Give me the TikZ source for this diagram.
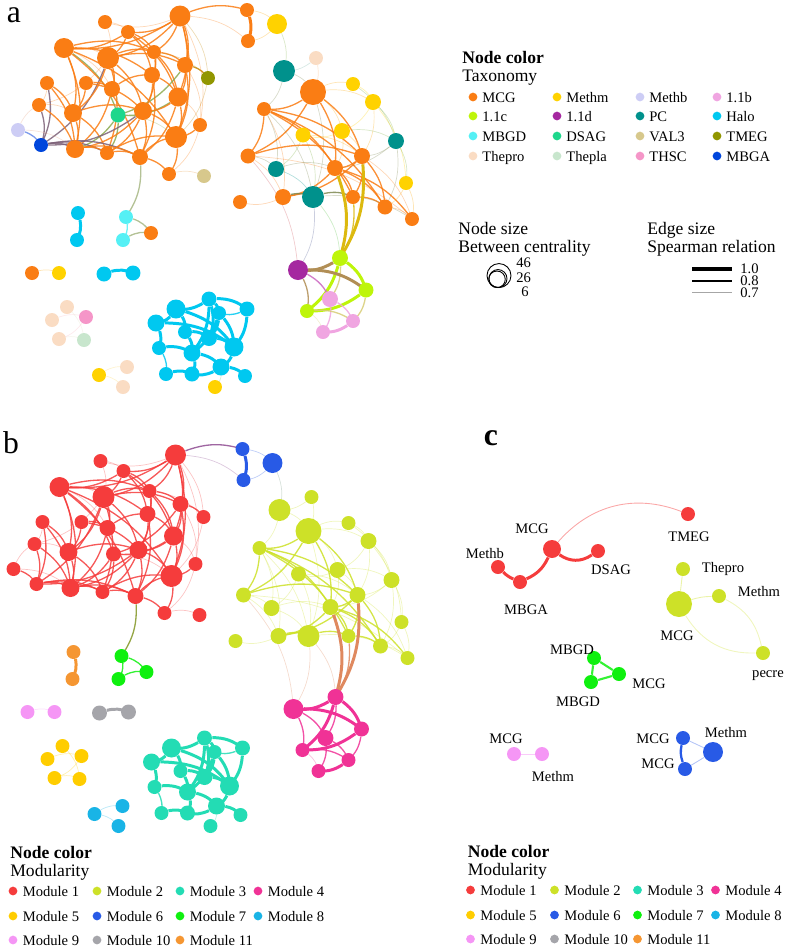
\documentclass[tikz,border=0pt]{standalone}
\usepackage{fontspec}
\setmainfont{Liberation Serif}
\usetikzlibrary{positioning}
\usetikzlibrary{backgrounds}

% taxonomy colours
\definecolor{tMCG}{RGB}{250,125,20}
\definecolor{tMethm}{RGB}{255,210,0}
\definecolor{tMethb}{RGB}{205,205,245}
\definecolor{tOneb}{RGB}{240,165,225}
\definecolor{tOnec}{RGB}{190,245,10}
\definecolor{tOned}{RGB}{165,40,160}
\definecolor{tPC}{RGB}{0,145,140}
\definecolor{tHalo}{RGB}{0,200,240}
\definecolor{tMBGD}{RGB}{85,240,245}
\definecolor{tDSAG}{RGB}{30,215,140}
\definecolor{tVAL}{RGB}{215,200,140}
\definecolor{tTMEG}{RGB}{145,150,0}
\definecolor{tThepro}{RGB}{250,220,195}
\definecolor{tThepla}{RGB}{200,230,205}
\definecolor{tTHSC}{RGB}{245,150,200}
\definecolor{tMBGA}{RGB}{0,70,220}
% module colours
\definecolor{m1}{RGB}{245,60,60}
\definecolor{m2}{RGB}{205,225,40}
\definecolor{m3}{RGB}{35,220,180}
\definecolor{m4}{RGB}{240,50,150}
\definecolor{m5}{RGB}{255,205,0}
\definecolor{m6}{RGB}{40,90,230}
\definecolor{m7}{RGB}{15,240,15}
\definecolor{m8}{RGB}{25,180,230}
\definecolor{m9}{RGB}{245,150,245}
\definecolor{m10}{RGB}{165,165,170}
\definecolor{m11}{RGB}{245,150,50}

% name/x/y/radius/taxonomy/module
\newcommand\netnodes{%
A1/180/16/10.5/tMCG/m1, A2/105/22/7/tMCG/m1, A3/128/32/7/tMCG/m1,
A4/64/48/10/tMCG/m1, A5/108/58/11/tMCG/m1, A6/154/52/7/tMCG/m1,
A7/185/65/8/tMCG/m1, A8/208/78/7/tTMEG/m1, A9/47/83/7/tMCG/m1,
A10/86/83/7/tMCG/m1, A11/112/89/8/tMCG/m1, A12/152/75/8/tMCG/m1,
A13/178/97/9.5/tMCG/m1, A14/39/105/7/tMCG/m1, A15/73/113/9/tMCG/m1,
A16/118/115/7.5/tDSAG/m1, A17/143/111/9/tMCG/m1, A18/200/125/7/tMCG/m1,
A19/18/130/7/tMethb/m1, A20/41/145/7/tMBGA/m1, A21/75/149/9/tMCG/m1,
A22/107/153/7/tMCG/m1, A23/140/157/8/tMCG/m1, A24/176/137/11/tMCG/m1,
A25/169/174/7/tMCG/m1, A26/204/176/7/tVAL/m1,
B1/247/10/7/tMCG/m6, B2/277/24/10/tMethm/m6, B3/248/41/7/tMCG/m6,
B4/316/58/7/tThepro/m2, B5/284/71/11/tPC/m2, B6/313/92/13/tMCG/m2,
B7/353/84/7/tMethm/m2, B8/373/102/8/tMethm/m2, B9/264/109/7/tMCG/m2,
B10/342/131/8/tMethm/m2, B11/303/135/7.5/tMethm/m2, B12/396/141/8/tPC/m2,
B13/248/156/7.5/tMCG/m2, B14/362/156/8/tMCG/m2, B15/276/169/8/tPC/m2,
B16/335/168/8/tMCG/m2, B17/406/183/7/tMethm/m2, B18/283/197/8/tMCG/m2,
B19/313/197/11/tPC/m2, B20/353/197/7/tMCG/m2, B21/385/207/7.5/tMCG/m2,
B22/412/219/7/tMCG/m2, B23/240/202/7/tMCG/m2,
C1/340/258/8/tOnec/m4, C2/298/270/10/tOned/m4, C3/366/290/7.5/tOnec/m4,
C4/330/299/8/tOneb/m4, C5/307/311/7/tOnec/m4, C6/353/321/7/tOneb/m4,
C7/323/332/7/tOneb/m4,
H1/209/299/7.5/tHalo/m3, H2/176/309/9.5/tHalo/m3, H3/247/309/7.5/tHalo/m3,
H4/219/313/7/tHalo/m3, H5/156/323/8.5/tHalo/m3, H6/185/332/7/tHalo/m3,
H7/209/338/8/tHalo/m3, H8/234/347/9.5/tHalo/m3, H9/159/348/7/tHalo/m3,
H10/192/353/8.5/tHalo/m3, H11/221/367/8.5/tHalo/m3, H12/166/374/7/tHalo/m3,
H13/192/374/7.5/tHalo/m3, H14/245/376/7/tHalo/m3, H15/215/387/7/tMethm/m3,
S1/78/213/7/tHalo/m11, S2/77/240/7/tHalo/m11,
M1/126/217/7/tMBGD/m7, M2/123/240/7/tMBGD/m7, M3/151/233/7/tMCG/m7,
P1/32/273/7/tMCG/m9, P2/59/273/7/tMethm/m9,
Q1/104/274/7.5/tHalo/m10, Q2/133/273/7.5/tHalo/m10,
T1/67/307/7/tThepro/m5, T2/52/320/7/tThepro/m5, T3/86/317/7/tTHSC/m5,
T4/59/339/7/tThepro/m5, T5/84/340/7/tThepla/m5,
U1/99/375/7/tMethm/m8, U2/127/367/7/tThepro/m8, U3/123/387/7/tThepro/m8}

% source/target/weight
\newcommand\netedges{%
A1/A3/2, A1/A4/2, A1/A5/2, A1/A7/2, A1/A13/2, A1/A24/2, A1/A8/1, A1/A6/2,
A1/A2/1, A2/A3/1, A2/A5/1, A3/A4/2, A3/A5/2, A3/A6/2, A3/A12/2, A3/A13/2,
A4/A5/1, A4/A6/2, A4/A12/2, A4/A15/2, A4/A21/2, A4/A16/2, A4/A23/2,
A4/A11/1, A4/A24/2, A5/A6/2, A5/A7/2, A5/A11/2, A5/A14/1, A5/A20/2,
A5/A17/2, A5/A15/2, A5/A22/2, A6/A7/2, A6/A12/2, A6/A13/2, A6/A8/1,
A6/A17/2, A7/A8/2, A7/A13/2, A7/A16/2, A7/A24/2, A7/A18/1, A9/A14/1,
A9/A20/2, A9/A15/2, A9/A21/2, A10/A11/2, A10/A15/2, A10/A17/2,
A11/A12/2, A11/A21/2, A11/A16/1, A12/A13/2, A12/A17/2, A12/A23/2,
A13/A16/2, A13/A17/2, A13/A24/2, A13/A23/2, A13/A18/1, A14/A20/2,
A14/A21/2, A14/A15/1, A15/A21/2, A15/A22/2, A15/A17/2, A16/A22/2,
A16/A21/2, A16/A24/1, A17/A21/2, A17/A22/2, A17/A24/2, A17/A20/2,
A17/A23/2, A18/A24/2, A18/A25/1, A19/A20/2, A19/A21/1, A19/A14/1,
A20/A21/2, A20/A22/2, A20/A23/2, A21/A22/2, A21/A23/2, A22/A23/2,
A22/A24/2, A23/A24/2, A23/A25/2, A24/A25/2, A25/A26/1,
A1/B1/2, A1/B3/1, A23/M1/2, A8/A24/1, A1/A18/1,
B1/B3/3, B1/B2/1, B2/B3/1, B2/B5/1, B4/B5/1, B4/B6/1, B5/B6/1, B5/B9/1,
B6/B9/2, B6/B13/2, B6/B7/1, B6/B8/1, B6/B14/2, B6/B10/1, B6/B16/2,
B6/B19/1, B7/B8/1, B7/B12/1, B8/B12/1, B8/B10/1, B8/B17/1, B8/B14/1,
B10/B11/1, B10/B14/1, B10/B12/1, B10/B16/1, B11/B15/1, B11/B14/1,
B11/B19/1, B9/B13/2, B9/B14/2, B9/B16/2, B9/B20/2, B9/B21/2, B9/B18/1,
B9/B15/1, B9/B19/1, B12/B14/1, B12/B17/1, B12/B21/1, B12/B16/1,
B13/B14/2, B13/B15/1, B13/B18/1, B13/B22/1, B14/B16/2, B14/B18/2,
B14/B20/2, B14/B22/1, B14/B21/2, B15/B19/1, B15/B16/1, B16/B18/2,
B16/B20/2, B16/B21/2, B16/B22/2, B17/B22/1, B17/B21/1, B18/B19/2,
B18/B23/1, B19/B20/2, B20/B21/2, B21/B22/1, B19/B22/1,
B16/C1/3, B14/C1/3, B20/C1/2, B19/C2/1, B19/C1/1, B13/C2/1,
C1/C2/3, C1/C3/3, C1/C5/3, C1/C4/2, C2/C3/3, C2/C5/2, C2/C4/2, C3/C5/3,
C3/C6/2, C4/C6/2, C4/C7/2, C5/C6/2, C6/C7/3, C5/C7/1,
H1/H2/3, H2/H5/3, H1/H4/3, H1/H3/3, H3/H4/2, H3/H8/3, H4/H8/3, H1/H7/3,
H1/H10/3, H2/H8/3, H2/H6/3, H5/H9/3, H5/H8/3, H6/H7/3, H6/H10/3,
H7/H8/3, H9/H10/3, H10/H11/3, H10/H13/3, H11/H13/3, H11/H14/3,
H11/H15/1, H12/H13/3, H9/H12/2, H8/H11/3, H4/H7/3, H4/H10/3,
S1/S2/3, M1/M2/2, M1/M3/2, M2/M3/2, P1/P2/1, Q1/Q2/3, T2/T3/1, T1/T5/1,
T4/T5/1, T3/T4/1, U1/U2/1, U1/U3/1}

% legend of the modules (panels b and c)
\newcommand\modlegend{%
  \node[headtxt,anchor=base west] (ncol) at (10,858) {\textbf{Node color}};
  \node[headtxt,anchor=base west] (modty) at (10,876) {Modularity};
  \foreach \k/\x/\y in {1/13/891, 2/97/891, 3/180/891, 4/258/891,
                        5/13/916, 6/97/916, 7/180/916, 8/258/916,
                        9/13/940, 10/97/940, 11/180/940}{
    \node[legdot,fill=m\k] (d\k) at (\x,\y) {};
    \node[legtxt,anchor=base west] (t\k) at (\x+9.5,\y+5) {Module \k};
  }}

\begin{document}
\begin{tikzpicture}[x=0.02cm,y=-0.02cm,
  netnode/.style={circle,inner sep=0pt,draw=none},
  wt1/.style={line width=0.4pt,draw opacity=0.3},
  wt2/.style={line width=0.75pt,draw opacity=0.85},
  wt3/.style={line width=1.7pt},
  legdot/.style={circle,inner sep=0pt,minimum size=1.75mm},
  legtxt/.style={inner sep=0pt,font=\fontsize{8.3}{10}\selectfont},
  headtxt/.style={inner sep=0pt,font=\fontsize{10}{12}\selectfont},
  panel/.style={inner sep=0pt,font=\fontsize{18}{18}\selectfont}]
\useasboundingbox (0,0) rectangle (787,948);

%%% panel a
\node[panel] (pa) at (14,15) {a};
\begin{scope}[name prefix=a-]
  \def\usecol{\ca}
  \foreach \n/\x/\y/\r/\ca/\cb in \netnodes {
    \node[netnode,fill=\usecol,minimum size=\r*0.4mm] (\n) at (\x,\y) {};
    \xglobal\colorlet{c-\n}{\usecol}
  }
  \begin{scope}[on background layer]
    \foreach \s/\t/\w in \netedges
      \draw[wt\w,draw=c-\s!50!c-\t] (\s) to[bend left=18] (\t);
  \end{scope}
\end{scope}

% taxonomy legend
\node[headtxt,anchor=base west] (ncolA) at (462,63) {\textbf{Node color}};
\node[headtxt,anchor=base west] (taxo) at (462,81) {Taxonomy};
\foreach \lab/\col/\x/\y in {MCG/tMCG/473/97, Methm/tMethm/557/97,
    Methb/tMethb/640/97, 1.1b/tOneb/717/97, 1.1c/tOnec/473/116,
    1.1d/tOned/557/116, PC/tPC/640/116, Halo/tHalo/717/116,
    MBGD/tMBGD/473/136, DSAG/tDSAG/557/136, VAL3/tVAL/640/136,
    TMEG/tTMEG/717/136, Thepro/tThepro/473/156, Thepla/tThepla/557/156,
    THSC/tTHSC/640/156, MBGA/tMBGA/717/156}{
  \node[legdot,fill=\col] (d-\col) at (\x,\y) {};
  \node[legtxt,anchor=base west] (t-\col) at (\x+9,\y+5) {\lab};
}

% node size legend
\node[headtxt,anchor=base west] (nsize) at (458,234) {Node size};
\node[headtxt,anchor=base west] (btwc) at (458,252) {Between centrality};
\node[circle,draw,line width=0.5pt,minimum size=4.8mm,anchor=south] (s46) at (499,288) {};
\node[circle,draw,line width=0.5pt,minimum size=3.6mm,anchor=south] (s26) at (498,288) {};
\node[circle,draw,line width=0.5pt,minimum size=2.5mm,anchor=south] (s6) at (497,288) {};
\node[legtxt,anchor=base west] (n46) at (516,267) {46};
\node[legtxt,anchor=base west] (n26) at (516,282) {26};
\node[legtxt,anchor=base west] (n6) at (521,296) {6};

% edge size legend
\node[headtxt,anchor=base west] (esize) at (647,234) {Edge size};
\node[headtxt,anchor=base west] (sprm) at (647,252) {Spearman relation};
\coordinate (e1a) at (692,269); \coordinate (e1b) at (732,269);
\coordinate (e2a) at (692,281); \coordinate (e2b) at (732,281);
\coordinate (e3a) at (692,292); \coordinate (e3b) at (732,292);
\draw[line width=1.8pt] (e1a) -- (e1b);
\draw[line width=0.9pt] (e2a) -- (e2b);
\draw[line width=0.4pt,black!35] (e3a) -- (e3b);
\node[legtxt,anchor=base west] (v10) at (740,273) {1.0};
\node[legtxt,anchor=base west] (v08) at (740,285) {0.8};
\node[legtxt,anchor=base west] (v07) at (740,297) {0.7};

%%% panel b
\node[panel] (pb) at (11,442.5) {b};
\begin{scope}[shift={(-4.5,439)},name prefix=b-]
  \def\usecol{\cb}
  \foreach \n/\x/\y/\r/\ca/\cb in \netnodes {
    \node[netnode,fill=\usecol,minimum size=\r*0.4mm] (\n) at (\x,\y) {};
    \xglobal\colorlet{c-\n}{\usecol}
  }
  \begin{scope}[on background layer]
    \foreach \s/\t/\w in \netedges
      \draw[wt\w,draw=c-\s!50!c-\t] (\s) to[bend left=18] (\t);
  \end{scope}
\end{scope}
\begin{scope}[name prefix=bl-]
  \modlegend
\end{scope}

%%% panel c
\node[panel,font=\fontsize{18}{18}\selectfont\bfseries] (pc) at (491,438) {c};
\foreach \n/\x/\y/\r/\col in {R1/552/549/9/m1, R2/598/551/7/m1,
    R3/498/567/7/m1, R4/520/582/7/m1, R5/688/514/7/m1,
    L1/679/604/13/m2, L2/683/569/7/m2, L3/719/596/7/m2, L4/763/653/7/m2,
    G1/594/658/7/m7, G2/619/674/7/m7, G3/591/682/7/m7,
    P1/514/754/7/m9, P2/542/754/7/m9,
    K1/683/738/7/m6, K2/685/769/7/m6, K3/713/752/10/m6}
  \node[netnode,fill=\col,minimum size=\r*0.4mm] (\n) at (\x,\y) {};
\begin{scope}[on background layer]
  \draw[wt3,m1] (R1) to[bend right=35] (R2);
  \draw[wt3,m1] (R4) to[bend right=20] (R1);
  \draw[wt3,m1] (R3) to[bend right=10] (R4);
  \draw[line width=0.5pt,m1!45] (R1) to[bend left=35] (R5);
  \draw[line width=0.5pt,m2!40] (L1) -- (L2);
  \draw[line width=0.5pt,m2!40] (L1) to[bend left=8] (L3);
  \draw[line width=0.5pt,m2!30] (L3) to[bend left=25] (L4);
  \draw[line width=0.5pt,m2!30] (L1) to[bend right=30] (L4);
  \draw[wt2,m7,line width=1.2pt] (G1) -- (G2);
  \draw[wt2,m7,line width=1.2pt] (G2) -- (G3);
  \draw[wt2,m7,line width=1.2pt] (G1) -- (G3);
  \draw[line width=0.5pt,m9!50] (P1) -- (P2);
  \draw[line width=1.3pt,m6] (K1) to[bend right=15] (K2);
  \draw[line width=0.5pt,m6!35] (K1) -- (K3);
  \draw[line width=0.5pt,m6!35] (K2) -- (K3);
\end{scope}
\foreach \n/\lab/\x/\y in {lR1/MCG/532/533, lR3/Methb/485/558,
    lR2/DSAG/611/574, lR4/MBGA/526/614, lR5/TMEG/689/541,
    lL2/Thepro/723/572, lL3/Methm/759/596, lL1/MCG/677/640,
    lL4/pecre/768/677, lG1/MBGD/572/654, lG2/MCG/649/688,
    lG3/MBGD/578/706, lP1/MCG/506/743, lP2/Methm/553/781,
    lK1/MCG/653/743, lK2/MCG/658/768, lK3/Methm/726/737}
  \node[legtxt,anchor=base] (\n) at (\x,\y) {\lab};
\begin{scope}[shift={(457.5,-1)},name prefix=cl-]
  \modlegend
\end{scope}
\end{tikzpicture}
\end{document}
